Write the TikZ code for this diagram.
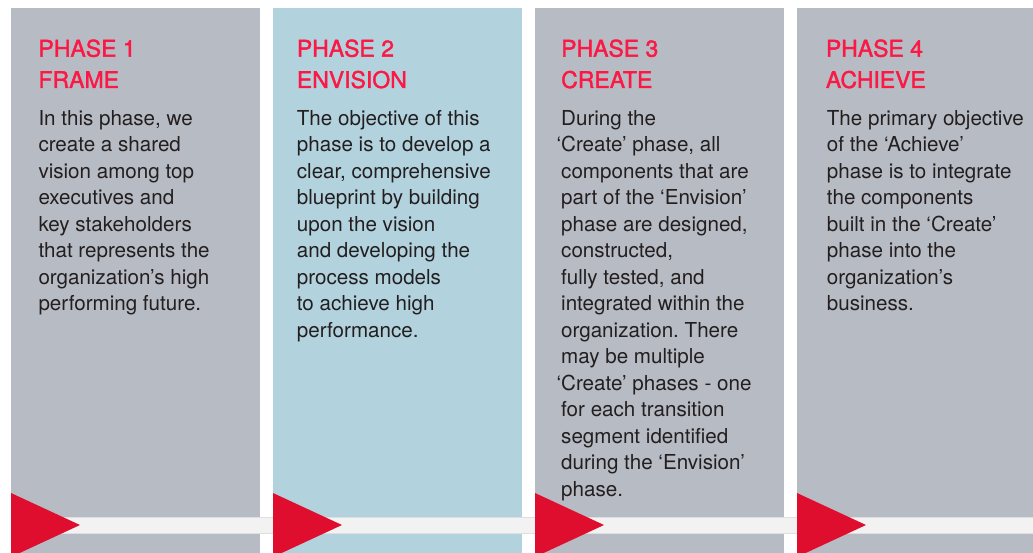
\documentclass[tikz,border=0pt]{standalone}
\usepackage{fontspec}
\setmainfont{TeX Gyre Heros}
\newfontfamily\titlefont{TeX Gyre Heros}[RawFeature={embolden=1.6}]
\frenchspacing
\definecolor{colgrey}{HTML}{B7BBC3}
\definecolor{colblue}{HTML}{B2D2DE}
\definecolor{bandgrey}{HTML}{F2F2F2}
\definecolor{bandedge}{HTML}{DEDFE1}
\definecolor{trired}{HTML}{E00E2E}
\definecolor{titlered}{HTML}{FC1844}
\definecolor{bodytext}{HTML}{231F20}
\begin{document}
\begin{tikzpicture}[x=1pt,y=-1pt,
  titletext/.style={anchor=north west, inner sep=0pt, align=left, text=titlered,
    font=\titlefont\fontsize{23}{31.3}\selectfont},
  bodytext/.style={anchor=north west, inner sep=0pt, align=left, text=bodytext,
    font=\fontsize{20.6}{26.5}\selectfont},
  marker/.style={fill=trired}]
\useasboundingbox (0,0) rectangle (1033,552);
\clip (0,0) rectangle (1033,552);
\fill[white] (0,0) rectangle (1033,552);
% columns
\fill[colgrey] (11,8) rectangle (260,560);
\fill[colblue] (273,8) rectangle (522,560);
\fill[colgrey] (535,8) rectangle (784,560);
\fill[colgrey] (797,8) rectangle (1040,560);
% band
\fill[bandgrey] (11,517) rectangle (1040,533);
\draw[bandedge, line width=0.6pt] (11,517) -- (1040,517);
\draw[bandedge, line width=0.6pt] (11,533) -- (1040,533);
% triangles
\fill[marker] (11,493) -- (80,525) -- (11,557) -- cycle;
\fill[marker] (273,493) -- (342,525) -- (273,557) -- cycle;
\fill[marker] (535,493) -- (604,525) -- (535,557) -- cycle;
\fill[marker] (797,493) -- (866,525) -- (797,557) -- cycle;
% titles
\node[titletext] (t1) at (38.3,39.3) {PHASE 1\\FRAME};
\node[titletext] (t2) at (296.7,39.3) {PHASE 2\\ENVISION};
\node[titletext] (t3) at (561,39.3) {PHASE 3\\CREATE};
\node[titletext] (t4) at (825.7,39.3) {PHASE 4\\ACHIEVE};
% bodies
\node[bodytext] (b1) at (38.3,110) {In this phase, we\\create a shared\\vision among top\\executives and\\key stakeholders\\that represents the\\organization’s high\\performing future.};
\node[bodytext] (b2) at (296.7,110) {The objective of this\\phase is to develop a\\clear, comprehensive\\blueprint by building\\upon the vision\\and developing the\\process models\\to achieve high\\performance.};
\node[bodytext] (b3) at (561,110) {During the\\\llap{‘}Create’ phase, all\\components that are\\part of the ‘Envision’\\phase are designed,\\constructed,\\fully tested, and\\integrated within the\\organization. There\\may be multiple\\\llap{‘}Create’ phases - one\\for each transition\\segment identified\\during the ‘Envision’\\phase.};
\node[bodytext] (b4) at (826.7,110) {The primary objective\\of the ‘Achieve’\\phase is to integrate\\the components\\built in the ‘Create’\\phase into the\\organization’s\\business.};
\end{tikzpicture}
\end{document}
